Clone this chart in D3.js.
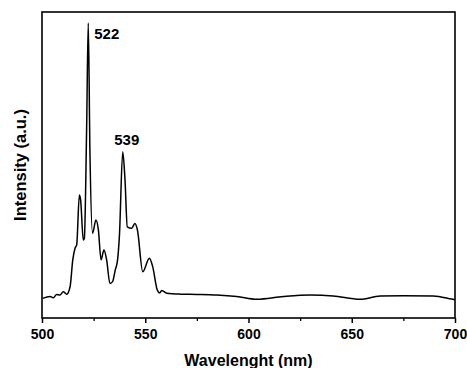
<!DOCTYPE html>
<html lang="en">
<head>
    <meta charset="UTF-8">
    <title>Emission spectrum</title>
    <script src="https://cdn.jsdelivr.net/npm/d3@7"></script>
    <style>
        body {
            margin: 0;
            padding: 0;
            background: #fff;
            font-family: Arial, "Liberation Sans", sans-serif;
        }
    </style>
</head>
<body>
    <div id="chart"></div>

    <script>
        // spectrum (wavelength in nm, intensity in a.u.)
        const wavelength = [500.3, 503.9, 505.5, 507.1, 508.7, 510.3, 512.0, 513.6, 514.9, 516.0,
            516.8, 518.1, 518.7, 520.0, 520.5, 521.6, 522.4, 523.2, 524.5, 526.1,
            527.3, 528.6, 530.0, 531.3, 532.9, 534.2, 535.4, 536.6, 537.5, 539.1,
            540.2, 541.3, 543.4, 545.0, 546.2, 548.8, 552.0, 553.6, 555.8, 557.0,
            558.0, 560.4, 566.8, 575.0, 584.6, 594.3, 604.0, 616.9, 629.8, 641.0,
            654.0, 663.7, 675.0, 689.5, 698.4, 700.0];
        const intensity = [6.4, 7.0, 6.6, 7.7, 7.5, 8.6, 7.8, 10.2, 19.0, 22.8,
            23.9, 40.2, 38.6, 25.5, 26.0, 61.4, 96.4, 54.9, 27.7, 32.0,
            28.8, 19.0, 22.2, 19.0, 11.3, 11.9, 15.5, 19.0, 27.0, 54.3,
            45.1, 29.8, 29.3, 30.9, 28.8, 15.1, 19.5, 16.8, 9.2, 8.2,
            9.0, 8.1, 7.8, 7.7, 7.5, 7.0, 6.1, 7.0, 7.5, 7.2,
            6.1, 7.2, 7.3, 7.2, 6.2, 6.0];

        const majorTicks = [500, 550, 600, 650, 700];
        const minorTicks = [525, 575, 625, 675];
        const peakLabels = ["522", "539"];
        const peakAt = [522.4, 539.1];
        const peakHeight = [96.4, 54.3];

        const width = 467, height = 368;
        const margin = { top: 12, right: 12, bottom: 50, left: 42 };

        const svg = d3.select("#chart").append("svg")
            .attr("width", width)
            .attr("height", height);

        const x = d3.scaleLinear().domain([500, 700]).range([margin.left, width - margin.right]);
        const y = d3.scaleLinear().domain([0, 100]).range([height - margin.bottom, margin.top]);

        const data = wavelength.map((w, i) => ({ w: w, v: intensity[i] }));

        // minor ticks first, major on top
        svg.append("g")
            .attr("transform", `translate(0,${y(0)})`)
            .call(d3.axisBottom(x).tickValues(minorTicks).tickSize(3).tickFormat(""))
            .call(g => g.select(".domain").remove())
            .selectAll("line").attr("stroke-width", 1.3);

        const xAxis = svg.append("g")
            .attr("transform", `translate(0,${y(0)})`)
            .call(d3.axisBottom(x).tickValues(majorTicks).tickSize(5).tickPadding(6));
        xAxis.select(".domain").remove();
        xAxis.selectAll("line").attr("stroke-width", 1.5);
        xAxis.selectAll("text")
            .attr("font-family", "Arial, 'Liberation Sans', sans-serif")
            .attr("font-size", 14)
            .attr("font-weight", "bold")
            .attr("fill", "#000");

        // frame
        svg.append("rect")
            .attr("x", x(500))
            .attr("y", y(100))
            .attr("width", x(700) - x(500))
            .attr("height", y(0) - y(100))
            .attr("fill", "none")
            .attr("stroke", "#000")
            .attr("stroke-width", 1.6);

        const line = d3.line()
            .x(d => x(d.w))
            .y(d => y(d.v))
            .curve(d3.curveMonotoneX);

        svg.append("path")
            .datum(data)
            .attr("d", line)
            .attr("fill", "none")
            .attr("stroke", "#000")
            .attr("stroke-width", 1.5)
            .attr("stroke-linejoin", "round");

        // peak labels: 522 sits right of its peak, 539 just above its peak
        svg.selectAll(".peak")
            .data(peakLabels)
            .enter()
            .append("text")
            .attr("class", "peak")
            .attr("x", (d, i) => i === 0 ? x(peakAt[i]) + 6 : x(peakAt[i]) + 4)
            .attr("y", (d, i) => i === 0 ? y(peakHeight[i]) + 16 : y(peakHeight[i]) - 7)
            .attr("text-anchor", (d, i) => i === 0 ? "start" : "middle")
            .attr("font-size", 15)
            .attr("font-weight", "bold")
            .text(d => d);

        svg.append("text")
            .attr("x", (x(500) + x(700)) / 2)
            .attr("y", 366)
            .attr("text-anchor", "middle")
            .attr("font-size", 16)
            .attr("font-weight", "bold")
            .text("Wavelenght (nm)");

        svg.append("text")
            .attr("transform", `translate(26,${(y(0) + y(100)) / 2}) rotate(-90)`)
            .attr("text-anchor", "middle")
            .attr("font-size", 16.5)
            .attr("font-weight", "bold")
            .text("Intensity (a.u.)");
    </script>
</body>
</html>
